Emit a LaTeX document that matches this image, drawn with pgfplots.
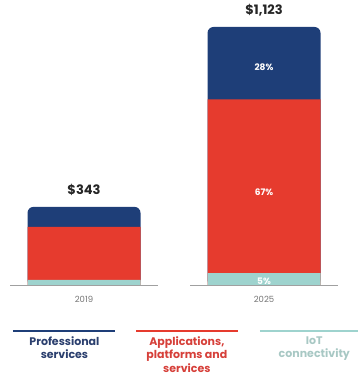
\documentclass[border=0pt]{standalone}
\usepackage{fontspec}
\setmainfont{Poppins}
\usepackage{pgfplots}
\pgfplotsset{compat=1.18}
\definecolor{navy}{HTML}{1E3E78}
\definecolor{appred}{HTML}{E63B2E}
\definecolor{iotteal}{HTML}{9ED3CE}
\definecolor{navytxt}{HTML}{2B3F6E}
\definecolor{redtxt}{HTML}{D6403A}
\definecolor{tealtxt}{HTML}{A8C8C4}
\definecolor{basegray}{HTML}{A0A0A0}
\definecolor{yeargray}{HTML}{757575}
\begin{document}
\begin{tikzpicture}
\begin{axis}[
  scale only axis, width=358pt, height=380pt,
  xmin=-0.4667, xmax=1.5222, ymin=-407.6, ymax=1240,
  hide axis, clip=false, ybar, bar width=113pt]
% Totals (Professional services on top, rounded top)
\addplot[fill=navy, draw=none, bar shift=0pt, rounded corners=6pt] coordinates {(0,343) (1,1123)};
% Applications + IoT (cumulative)
\addplot[fill=appred, draw=none, bar shift=0pt] coordinates {(0,256) (1,808.6)};
% IoT connectivity
\addplot[fill=iotteal, draw=none, bar shift=0pt] coordinates {(0,26) (1,56.2)};
% baselines
\draw[basegray, line width=1pt] (axis cs:-0.411,0) -- (axis cs:0.411,0);
\draw[basegray, line width=1pt] (axis cs:0.589,0) -- (axis cs:1.411,0);
% totals
\node[font=\bfseries\fontsize{13}{13}\selectfont, text=black!85] at (axis cs:0,417) {\$343};
\node[font=\bfseries\fontsize{13}{13}\selectfont, text=black!85] at (axis cs:1,1197) {\$1,123};
% percentages
\node[font=\bfseries\fontsize{9}{9}\selectfont, text=white] at (axis cs:1,950) {28\%};
\node[font=\bfseries\fontsize{9}{9}\selectfont, text=white] at (axis cs:1,408) {67\%};
\node[font=\bfseries\fontsize{9}{9}\selectfont, text=white] at (axis cs:1,20) {5\%};
% years
\node[font=\fontsize{8.5}{8.5}\selectfont, text=yeargray] at (axis cs:0,-56) {2019};
\node[font=\fontsize{8.5}{8.5}\selectfont, text=yeargray] at (axis cs:1,-56) {2025};
% legend
\draw[navy, line width=2.5pt] (rel axis cs:0.036,0.129) -- (rel axis cs:0.321,0.129);
\draw[appred, line width=2.5pt] (rel axis cs:0.380,0.129) -- (rel axis cs:0.665,0.129);
\draw[iotteal, line width=2.5pt] (rel axis cs:0.726,0.129) -- (rel axis cs:1.0,0.129);
\node[anchor=north, align=center, inner sep=1pt, font=\bfseries\fontsize{11}{13.5}\selectfont, text=navytxt] at (rel axis cs:0.180,0.118) {Professional\\services};
\node[anchor=north, align=center, inner sep=1pt, font=\bfseries\fontsize{11}{13.5}\selectfont, text=redtxt] at (rel axis cs:0.522,0.118) {Applications,\\platforms and\\services};
\node[anchor=north, align=center, inner sep=1pt, font=\bfseries\fontsize{11}{13.5}\selectfont, text=tealtxt] at (rel axis cs:0.878,0.118) {IoT\\connectivity};
\end{axis}
\pgfresetboundingbox
\path (current axis.south west) rectangle (current axis.north east);
\end{tikzpicture}
\end{document}
